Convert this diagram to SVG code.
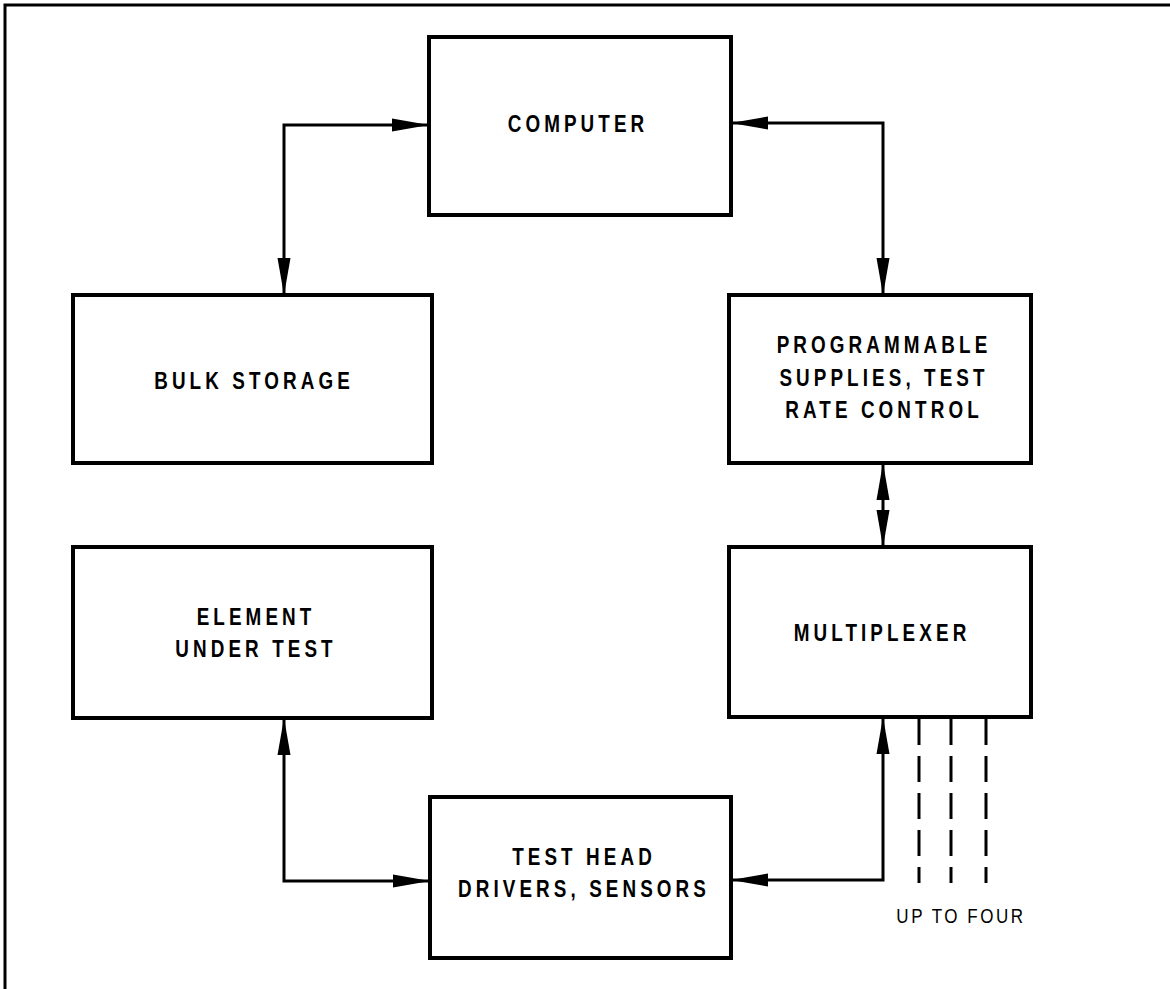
<svg xmlns="http://www.w3.org/2000/svg" width="1170" height="989" viewBox="0 0 1170 989">
<style>
.box{fill:none;stroke:#000;stroke-width:4}
.lbl{font-family:"Liberation Sans",Arial,sans-serif;font-weight:bold;font-size:23px;letter-spacing:5px;text-anchor:middle;fill:#000}
.note{font-family:"Liberation Sans",Arial,sans-serif;font-size:20px;letter-spacing:3px;text-anchor:middle;fill:#000}
.conn{fill:none;stroke:#000;stroke-width:3;marker-start:url(#ah);marker-end:url(#ah)}
.dash{fill:none;stroke:#000;stroke-width:3;stroke-dasharray:26 11}
</style>
<defs>
<marker id="ah" markerUnits="userSpaceOnUse" markerWidth="38" markerHeight="14" viewBox="0 0 38 14" refX="37" refY="7" orient="auto-start-reverse">
<polygon points="0,0.5 37,7 0,13.5"/>
</marker>
</defs>
<path d="M5 989 V5 H1170" fill="none" stroke="#000" stroke-width="3"/>
<g id="computer"><rect class="box" x="429" y="37" width="302" height="178"/><text class="lbl" transform="translate(578,132) scale(0.82,1)">COMPUTER</text></g>
<g id="bulk-storage"><rect class="box" x="73" y="295" width="359" height="168"/><text class="lbl" transform="translate(254,389) scale(0.82,1)">BULK STORAGE</text></g>
<g id="programmable"><rect class="box" x="729" y="295" width="302" height="168"/><text class="lbl" transform="translate(884,353) scale(0.82,1)">PROGRAMMABLE</text><text class="lbl" transform="translate(884,386) scale(0.82,1)">SUPPLIES, TEST</text><text class="lbl" transform="translate(884,418) scale(0.82,1)">RATE CONTROL</text></g>
<g id="element"><rect class="box" x="73" y="547" width="359" height="171"/><text class="lbl" transform="translate(256,625) scale(0.82,1)">ELEMENT</text><text class="lbl" transform="translate(256,657) scale(0.82,1)">UNDER TEST</text></g>
<g id="multiplexer"><rect class="box" x="729" y="547" width="302" height="170"/><text class="lbl" transform="translate(882,641) scale(0.82,1)">MULTIPLEXER</text></g>
<g id="test-head"><rect class="box" x="430" y="797" width="301" height="161"/><text class="lbl" transform="translate(584,865) scale(0.82,1)">TEST HEAD</text><text class="lbl" transform="translate(584,897) scale(0.82,1)">DRIVERS, SENSORS</text></g>
<g id="connectors">
<path class="conn" d="M284 295 V125 H429"/>
<path class="conn" d="M731 123 H883 V295"/>
<path class="conn" d="M883 463 V547"/>
<path class="conn" d="M284 718 V881 H430"/>
<path class="conn" d="M883 717 V880 H731"/>
<path class="dash" d="M919 719 V883 M951 719 V883 M986 719 V883"/>
</g>
<text class="note" transform="translate(961,923) scale(0.85,1)">UP TO FOUR</text>
</svg>
